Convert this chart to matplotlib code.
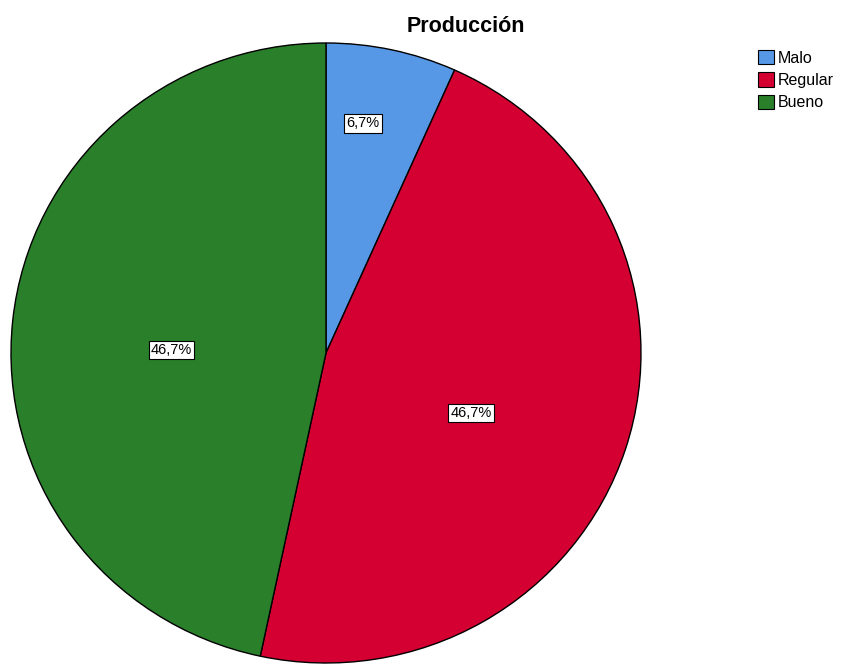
import matplotlib
matplotlib.use("Agg")
import matplotlib.pyplot as plt
import numpy as np
from matplotlib.patches import Patch

plt.rcParams['font.family'] = ['Liberation Sans', 'DejaVu Sans']

categorias = ['Malo', 'Regular', 'Bueno']
porcentajes = [6.7, 46.7, 46.7]
colores = ['#5697E6', '#D40032', '#2A7F2A']
# posicion de cada etiqueta: distancia radial y giro respecto al centro del sector
dist_etiqueta = [0.75, 0.50, 0.49]
giro_etiqueta = [3.0, -4.7, 5.0]

fig = plt.figure(figsize=(8.43, 6.65), dpi=100)
ax = fig.add_axes([11 / 843, 2 / 665, 630 / 843, 620 / 665])

wedges, _ = ax.pie(porcentajes, colors=colores, startangle=90, counterclock=False,
                   wedgeprops=dict(edgecolor='black', linewidth=1.0))
ax.set_aspect('auto')
ax.set_xlim(-1, 1)
ax.set_ylim(-1, 1)
ax.axis('off')

for w, p, d, g in zip(wedges, porcentajes, dist_etiqueta, giro_etiqueta):
    ang = np.deg2rad((w.theta1 + w.theta2) / 2 + g)
    ax.text(d * np.cos(ang), d * np.sin(ang), '{:.1f}%'.format(p).replace('.', ','),
            ha='center', va='center', fontsize=10.5,
            bbox=dict(boxstyle='square,pad=0.15', facecolor='white', edgecolor='black', linewidth=0.8))

fig.text(466 / 843, 1 - 26 / 665, 'Producción', ha='center', va='center',
         fontsize=15.5, fontweight='bold')

handles = [Patch(facecolor=c, edgecolor='black', linewidth=0.8) for c in colores]
fig.legend(handles, categorias, loc='upper left', bbox_to_anchor=(758 / 843, 1 - 50 / 665),
           frameon=False, fontsize=11.5, handlelength=1.0, handleheight=1.0,
           handletextpad=0.25, labelspacing=0.42, borderaxespad=0, borderpad=0)

fig.savefig('out.png', dpi=100)
